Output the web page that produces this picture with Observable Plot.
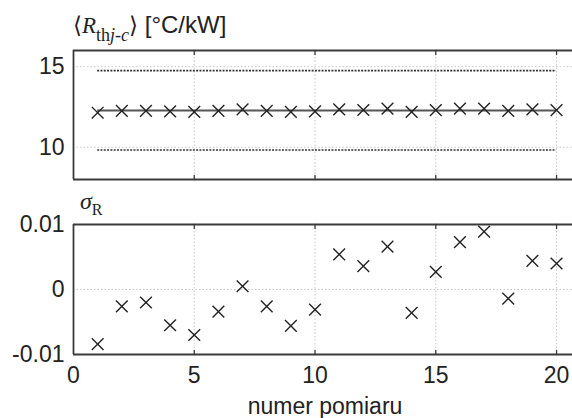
<!DOCTYPE html>
<html><head><meta charset="utf-8">
<script src="https://cdn.jsdelivr.net/npm/d3@7"></script>
<script src="https://cdn.jsdelivr.net/npm/@observablehq/plot@0.6"></script>
<style>
body{margin:0;background:#fff;}
#wrap{position:relative;width:572px;height:418px;overflow:hidden;font-family:"Liberation Sans",Arial,Helvetica,sans-serif;color:#222;}
.lbl{position:absolute;white-space:nowrap;line-height:1;}
.serif{font-family:"Liberation Serif","Times New Roman","DejaVu Serif",serif;}
.pane{position:absolute;left:0;}
</style></head><body>
<div id="wrap">
  <div id="top" class="pane" style="top:0"></div>
  <div id="bot" class="pane" style="top:190px"></div>
  <div class="lbl" style="left:73px;top:13px;font-size:24px"><span class="serif" style="font-size:23px">⟨<i>R</i><span style="font-size:18px;position:relative;top:8px">th<i>j</i>-<i>c</i></span>⟩</span> [°C/kW]</div>
  <div class="lbl serif" style="left:80px;top:189px;font-size:24px"><i>σ</i><span style="font-size:16px;position:relative;top:6px">R</span></div>
  <div class="lbl" style="left:73px;width:504px;text-align:center;top:395px;font-size:23px">numer pomiaru</div>
</div>
<script>
// measurement number
const pomiar = [1,2,3,4,5,6,7,8,9,10,11,12,13,14,15,16,17,18,19,20];
// <R_th j-c> [°C/kW]
const rth = [12.14,12.25,12.25,12.23,12.20,12.25,12.35,12.25,12.20,12.22,12.35,12.31,12.40,12.20,12.30,12.40,12.40,12.25,12.35,12.30];
// sigma_R
const sigma = [-0.0084,-0.0026,-0.0020,-0.0055,-0.0070,-0.0034,0.0005,-0.0026,-0.0056,-0.0031,0.0054,0.0036,0.0066,-0.0036,0.0027,0.0073,0.0089,-0.0014,0.0044,0.0040];
// reference levels in the top panel
const rthMean = [12.28];
const rthBounds = [14.75, 9.83];
// ticks
const xTicks = [0,5,10,15,20];
const xGridTicks = [5,10,15,20];
const yTopTicks = [10,15];
const yBotTicks = [-0.01,0,0.01];
const xDomain = [0, 20.66];
const yTopDomain = [8, 16];
const yBotDomain = [-0.01, 0.01];
const xSpan = [1, 20];

const font = '"Liberation Sans",Arial,Helvetica,sans-serif';
const frameColor = "#3a3a3a";
const gridStyle = {stroke:"#c8c8c8", strokeWidth:1, strokeDasharray:"1.5,2"};
const tickShape = {draw(ctx, l){ ctx.moveTo(0,0); ctx.lineTo(0,-l); }};

function frameMarks(yDom){
  return [
    Plot.ruleY(yDom, {stroke:frameColor, strokeWidth:1.8}),
    Plot.ruleX([xDomain[0]], {stroke:frameColor, strokeWidth:1.8}),
    Plot.vector(xGridTicks, {x:d=>d, y:yDom[1], length:4, rotate:180, anchor:"start", shape:tickShape, stroke:frameColor, strokeWidth:1.3}),
    Plot.vector(xGridTicks, {x:d=>d, y:yDom[0], length:4, rotate:0, anchor:"start", shape:tickShape, stroke:frameColor, strokeWidth:1.3})
  ];
}
const rows = pomiar.map((p,i)=>({p, r:rth[i], s:sigma[i]}));
const style = {fontFamily:font, fontSize:"23px", color:"#222", background:"transparent", overflow:"visible"};

const topPlot = Plot.plot({
  width:572, height:190, marginLeft:73, marginRight:0, marginTop:50, marginBottom:11,
  style,
  x:{domain:xDomain},
  y:{domain:yTopDomain},
  marks:[
    Plot.ruleX(xGridTicks, {...gridStyle}),
    Plot.ruleY(yTopTicks, {...gridStyle}),
    Plot.ruleY(rthBounds, {x1:xSpan[0], x2:xSpan[1], stroke:"#333", strokeWidth:1.6, strokeDasharray:"2,1.3"}),
    Plot.ruleY(rthMean, {x1:xSpan[0], x2:xSpan[1], stroke:"#555", strokeWidth:2.2}),
    Plot.dot(rows, {x:"p", y:"r", symbol:"times", r:5.4, stroke:"#222", strokeWidth:1.4}),
    ...frameMarks(yTopDomain),
    Plot.axisY(yTopTicks, {tickSize:0, tickPadding:9, label:null, fontSize:23}),
    Plot.axisX({ticks:[], label:null})
  ]
});
document.getElementById("top").appendChild(topPlot);

const botPlot = Plot.plot({
  width:572, height:228, marginLeft:73, marginRight:0, marginTop:34, marginBottom:64,
  style,
  x:{domain:xDomain},
  y:{domain:yBotDomain},
  marks:[
    Plot.ruleX(xGridTicks, {...gridStyle}),
    Plot.ruleY(yBotTicks, {...gridStyle}),
    Plot.dot(rows, {x:"p", y:"s", symbol:"times", r:5.4, stroke:"#222", strokeWidth:1.4}),
    ...frameMarks(yBotDomain),
    Plot.axisY(yBotTicks, {tickSize:0, tickPadding:9, label:null, tickFormat:d=>String(d), fontSize:23}),
    Plot.axisX(xTicks, {tickSize:0, tickPadding:12, label:null, fontSize:23})
  ]
});
document.getElementById("bot").appendChild(botPlot);
</script>
</body></html>
